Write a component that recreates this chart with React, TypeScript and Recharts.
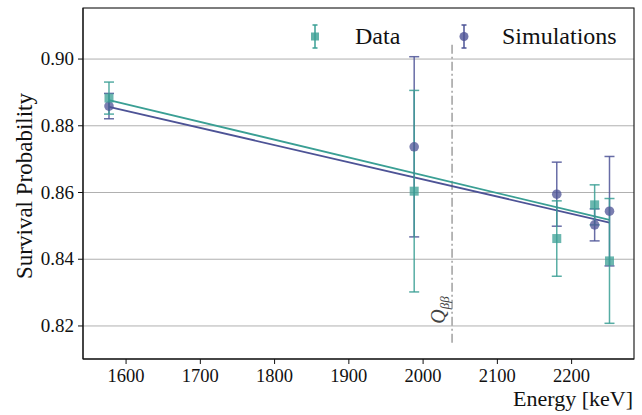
import React from 'react';
import { ComposedChart, Scatter, Line, XAxis, YAxis, CartesianGrid, ErrorBar, ReferenceLine, ReferenceArea, Label } from 'recharts';

const energies = [1577, 1988, 2180, 2231, 2251];
const dataValues = [0.8883, 0.8604, 0.8462, 0.8563, 0.8395];
const dataErrors = [0.0048, 0.0302, 0.0113, 0.006, 0.0187];
const simValues = [0.8859, 0.8737, 0.8595, 0.8503, 0.8544];
const simErrors = [0.0038, 0.027, 0.0096, 0.0048, 0.0164];
// linear fits, evaluated at the first and last energy
const dataFit = [0.8877, 0.8518];
const simFit = [0.8857, 0.851];

const xTicks = [1600, 1700, 1800, 1900, 2000, 2100, 2200];
const yTicks = [0.82, 0.84, 0.86, 0.88, 0.9];
const xDomain = [1542, 2284];
const yDomain = [0.8101, 0.9153];
const qbb = 2039;
const qbbRange = [0.815, 0.905];

const DATA_COLOR = '#3a9f94';
const SIM_COLOR = '#4d5396';
const FONT = '"Liberation Serif", "DejaVu Serif", serif';

const dataPoints = energies.map((x, i) => ({ x, y: dataValues[i], err: dataErrors[i] }));
const simPoints = energies.map((x, i) => ({ x, y: simValues[i], err: simErrors[i] }));
const dataFitLine = [
  { x: energies[0], y: dataFit[0] },
  { x: energies[energies.length - 1], y: dataFit[1] },
];
const simFitLine = [
  { x: energies[0], y: simFit[0] },
  { x: energies[energies.length - 1], y: simFit[1] },
];

const SquareMarker = (props: any) => {
  const { cx, cy } = props;
  if (cx == null || cy == null) return null;
  return <rect x={cx - 4.5} y={cy - 4.5} width={9} height={9} fill={DATA_COLOR} fillOpacity={0.75} />;
};

const CircleMarker = (props: any) => {
  const { cx, cy } = props;
  if (cx == null || cy == null) return null;
  return <circle cx={cx} cy={cy} r={4.8} fill={SIM_COLOR} fillOpacity={0.75} />;
};

const XTick = (props: any) => {
  const { x, y, payload } = props;
  return (
    <text x={x} y={y + 15} textAnchor="middle" style={{ fontFamily: FONT, fontSize: 18.5 }} fill="#111">
      {payload.value}
    </text>
  );
};

const YTick = (props: any) => {
  const { x, y, payload } = props;
  return (
    <text x={x} y={y + 6} textAnchor="end" style={{ fontFamily: FONT, fontSize: 19 }} fill="#111">
      {Number(payload.value).toFixed(2)}
    </text>
  );
};

const LegendItem = ({ color, shape, label, left, textLeft }: any) => (
  <>
    <svg style={{ position: 'absolute', left: left - 8, top: 22 }} width={16} height={30}>
      <line x1={8} y1={3} x2={8} y2={26} stroke={color} strokeWidth={1.5} />
      <line x1={5.5} y1={3} x2={10.5} y2={3} stroke={color} strokeWidth={1.5} />
      <line x1={5.5} y1={26} x2={10.5} y2={26} stroke={color} strokeWidth={1.5} />
      {shape === 'square' ? (
        <rect x={4} y={10.5} width={8} height={8} fill={color} fillOpacity={0.8} />
      ) : (
        <circle cx={8} cy={14.5} r={4.5} fill={color} fillOpacity={0.8} />
      )}
    </svg>
    <div style={{ position: 'absolute', left: textLeft, top: 22, fontFamily: FONT, fontSize: 24, lineHeight: '28px', color: '#111' }}>
      {label}
    </div>
  </>
);

export default function App() {
  return (
    <div style={{ position: 'absolute', left: 0, top: 0, width: 642, height: 415, background: '#fff', fontFamily: FONT }}>
      <ComposedChart width={642} height={415} margin={{ top: 8, right: 8, left: 0, bottom: 0 }} style={{ fontFamily: FONT }}>
        <CartesianGrid vertical={false} stroke="#b0b0b0" strokeWidth={1} />
        <XAxis
          type="number"
          dataKey="x"
          domain={xDomain}
          ticks={xTicks}
          allowDataOverflow
          height={56}
          tickSize={5}
          tickMargin={3}
          stroke="#111"
          tick={XTick}
          label={
            <Label
              content={() => (
                <text x={633} y={406} textAnchor="end" style={{ fontFamily: FONT, fontSize: 22 }} fill="#111">
                  Energy [keV]
                </text>
              )}
            />
          }
        />
        <YAxis
          type="number"
          dataKey="y"
          domain={yDomain}
          ticks={yTicks}
          allowDataOverflow
          width={83}
          tickSize={5}
          tickMargin={4}
          stroke="#111"
          tick={YTick}
          label={
            <Label
              content={() => (
                <text
                  x={32}
                  y={186}
                  transform="rotate(-90 32 186)"
                  textAnchor="middle"
                  style={{ fontFamily: FONT, fontSize: 23 }}
                  fill="#111"
                >
                  Survival Probability
                </text>
              )}
            />
          }
        />
        <ReferenceLine
          segment={[{ x: qbb, y: qbbRange[0] }, { x: qbb, y: qbbRange[1] }]}
          stroke="#a0a0a0"
          strokeWidth={1.5}
          strokeDasharray="9 3 2 3"
          label={{
            content: (props: any) => {
              const vb = props.viewBox || {};
              const x = (vb.x ?? 0) - 7;
              const y = (vb.y ?? 0) + (vb.height ?? 0) - 19;
              return (
                <text
                  x={x}
                  y={y}
                  transform={`rotate(-90 ${x} ${y})`}
                  style={{ fontFamily: FONT, fontStyle: 'italic', fontSize: 20 }}
                  fill="#444"
                >
                  Q
                  <tspan fontSize={13} dy={4}>
                    ββ
                  </tspan>
                </text>
              );
            },
          }}
        />
        <Line data={dataFitLine} dataKey="y" type="linear" stroke={DATA_COLOR} strokeWidth={1.8} dot={false} isAnimationActive={false} />
        <Line data={simFitLine} dataKey="y" type="linear" stroke={SIM_COLOR} strokeWidth={1.8} dot={false} isAnimationActive={false} />
        <Scatter data={simPoints} dataKey="y" shape={CircleMarker} isAnimationActive={false}>
          <ErrorBar dataKey="err" direction="y" width={5} stroke={SIM_COLOR} strokeWidth={1.5} strokeOpacity={0.85} isAnimationActive={false} />
        </Scatter>
        <Scatter data={dataPoints} dataKey="y" shape={SquareMarker} isAnimationActive={false}>
          <ErrorBar dataKey="err" direction="y" width={5} stroke={DATA_COLOR} strokeWidth={1.5} strokeOpacity={0.85} isAnimationActive={false} />
        </Scatter>
        <ReferenceArea x1={xDomain[0]} x2={xDomain[1]} y1={yDomain[0]} y2={yDomain[1]} fill="none" stroke="#222" strokeWidth={1.2} />
      </ComposedChart>
      <LegendItem color={DATA_COLOR} shape="square" label="Data" left={315} textLeft={355} />
      <LegendItem color={SIM_COLOR} shape="circle" label="Simulations" left={464} textLeft={502} />
    </div>
  );
}
